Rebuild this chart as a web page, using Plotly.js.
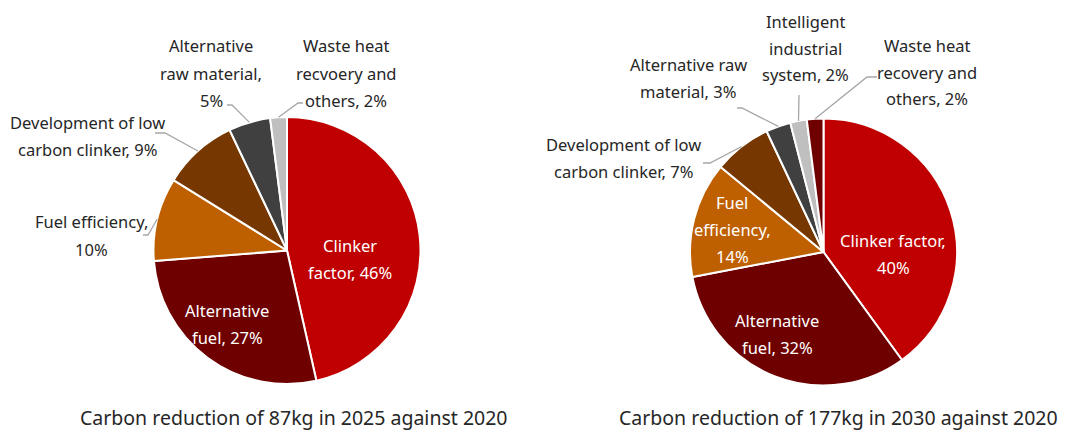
<!DOCTYPE html>
<html>
<head>
<meta charset="utf-8">
<script src="https://cdn.plot.ly/plotly-3.0.1.min.js"></script>
<style>html,body{margin:0;padding:0;background:#fff;}#chart{width:1065px;height:431px;}</style>
</head>
<body>
<div id="chart"></div>
<script>
// ---- data ----
const cats2025 = ['Clinker factor', 'Alternative fuel', 'Fuel efficiency', 'Development of low carbon clinker', 'Alternative raw material', 'Waste heat recvoery and others'];
const vals2025 = [46, 27, 10, 9, 5, 2];
const text2025 = [['Clinker', 'factor, 46%'], ['Alternative', 'fuel, 27%'], ['Fuel efficiency,', '10%'], ['Development of low', 'carbon clinker, 9%'], ['Alternative', 'raw material,', '5%'], ['Waste heat', 'recvoery and', 'others, 2%']];
const colors2025 = ['#C00000', '#6E0000', '#BF6000', '#763800', '#404040', '#BFBFBF'];

const cats2030 = ['Clinker factor', 'Alternative fuel', 'Fuel efficiency', 'Development of low carbon clinker', 'Alternative raw material', 'Intelligent industrial system', 'Waste heat recovery and others'];
const vals2030 = [40, 32, 14, 7, 3, 2, 2];
const text2030 = [['Clinker factor,', '40%'], ['Alternative', 'fuel, 32%'], ['Fuel', 'efficiency,', '14%'], ['Development of low', 'carbon clinker, 7%'], ['Alternative raw', 'material, 3%'], ['Intelligent', 'industrial', 'system, 2%'], ['Waste heat', 'recovery and', 'others, 2%']];
const colors2030 = ['#C00000', '#6E0000', '#BF6000', '#763800', '#404040', '#BFBFBF', '#6E0000'];

const titles = ['Carbon reduction of 87kg in 2025 against 2020', 'Carbon reduction of 177kg in 2030 against 2020'];

// ---- layout helpers (pixels) ----
const W = 1065, H = 431;
const px = x => x / W, py = y => 1 - y / H;
const pies = [
  {cx: 287, cy: 250.5, r: 133.5, cats: cats2025, vals: vals2025, text: text2025, colors: colors2025,
   labelPos: [[350, 245, 1], [227, 310, 1], [91, 222, 0], [87, 122, 0], [211, 46, 0], [346, 46, 0]],
   leaders: [null, null, [[143, 235], [148, 235]], [[155, 133], [165, 133]], [[227, 105], [232, 105]], [[303, 103], [298, 103]]],
   title: [294, 417]},
  {cx: 823.5, cy: 252, r: 133.5, cats: cats2030, vals: vals2030, text: text2030, colors: colors2030,
   labelPos: [[893, 240, 1], [777, 320, 1], [732, 202, 1], [623, 145, 0], [688, 65, 0], [805, 21, 0], [927, 45, 0]],
   leaders: [null, null, null, [[703, 163], [710, 163]], [[737, 108], [742, 108]], [[799, 95]], [[877, 77], [867, 77]]],
   title: [838, 417]}
];

const LINE = 27;
const traces = [], annotations = [], shapes = [];
pies.forEach((p, k) => {
  traces.push({
    type: 'pie', labels: p.cats, values: p.vals, sort: false, direction: 'clockwise', rotation: 0,
    marker: {colors: p.colors, line: {color: '#FFFFFF', width: 2}},
    textinfo: 'none', hoverinfo: 'label+percent', showlegend: false,
    domain: {x: [px(p.cx - p.r), px(p.cx + p.r)], y: [py(p.cy + p.r), py(p.cy - p.r)]}
  });
  const total = p.vals.reduce((a, b) => a + b, 0);
  let cum = 0;
  p.vals.forEach((v, i) => {
    const mid = (cum + v / 2) / total * 2 * Math.PI;
    cum += v;
    const [lx, ly, inside] = p.labelPos[i];
    p.text[i].forEach((t, j) => {
      annotations.push({
        xref: 'paper', yref: 'paper', x: px(lx), y: py(ly + j * LINE), xanchor: 'center', yanchor: 'middle',
        text: t, showarrow: false,
        font: {family: 'Noto Sans, Open Sans, sans-serif', size: 16.5, color: inside ? '#FFFFFF' : '#262626'}
      });
    });
    if (p.leaders[i]) {
      const ex = p.cx + p.r * Math.sin(mid), ey = p.cy - p.r * Math.cos(mid);
      const pts = p.leaders[i].concat([[ex, ey]]);
      const path = pts.map((q, n) => (n ? 'L' : 'M') + px(q[0]) + ',' + py(q[1])).join(' ');
      shapes.push({type: 'path', xref: 'paper', yref: 'paper', path: path, line: {color: '#A6A6A6', width: 1.3}});
    }
  });
  annotations.push({
    xref: 'paper', yref: 'paper', x: px(p.title[0]), y: py(p.title[1]), xanchor: 'center', yanchor: 'middle',
    text: titles[k], showarrow: false,
    font: {family: 'Noto Sans, Open Sans, sans-serif', size: 19.5, color: '#262626'}
  });
});

Plotly.newPlot('chart', traces, {
  width: W, height: H, margin: {l: 0, r: 0, t: 0, b: 0},
  paper_bgcolor: '#FFFFFF', plot_bgcolor: '#FFFFFF',
  annotations: annotations, shapes: shapes
}, {displayModeBar: false, staticPlot: true});
</script>
</body>
</html>
